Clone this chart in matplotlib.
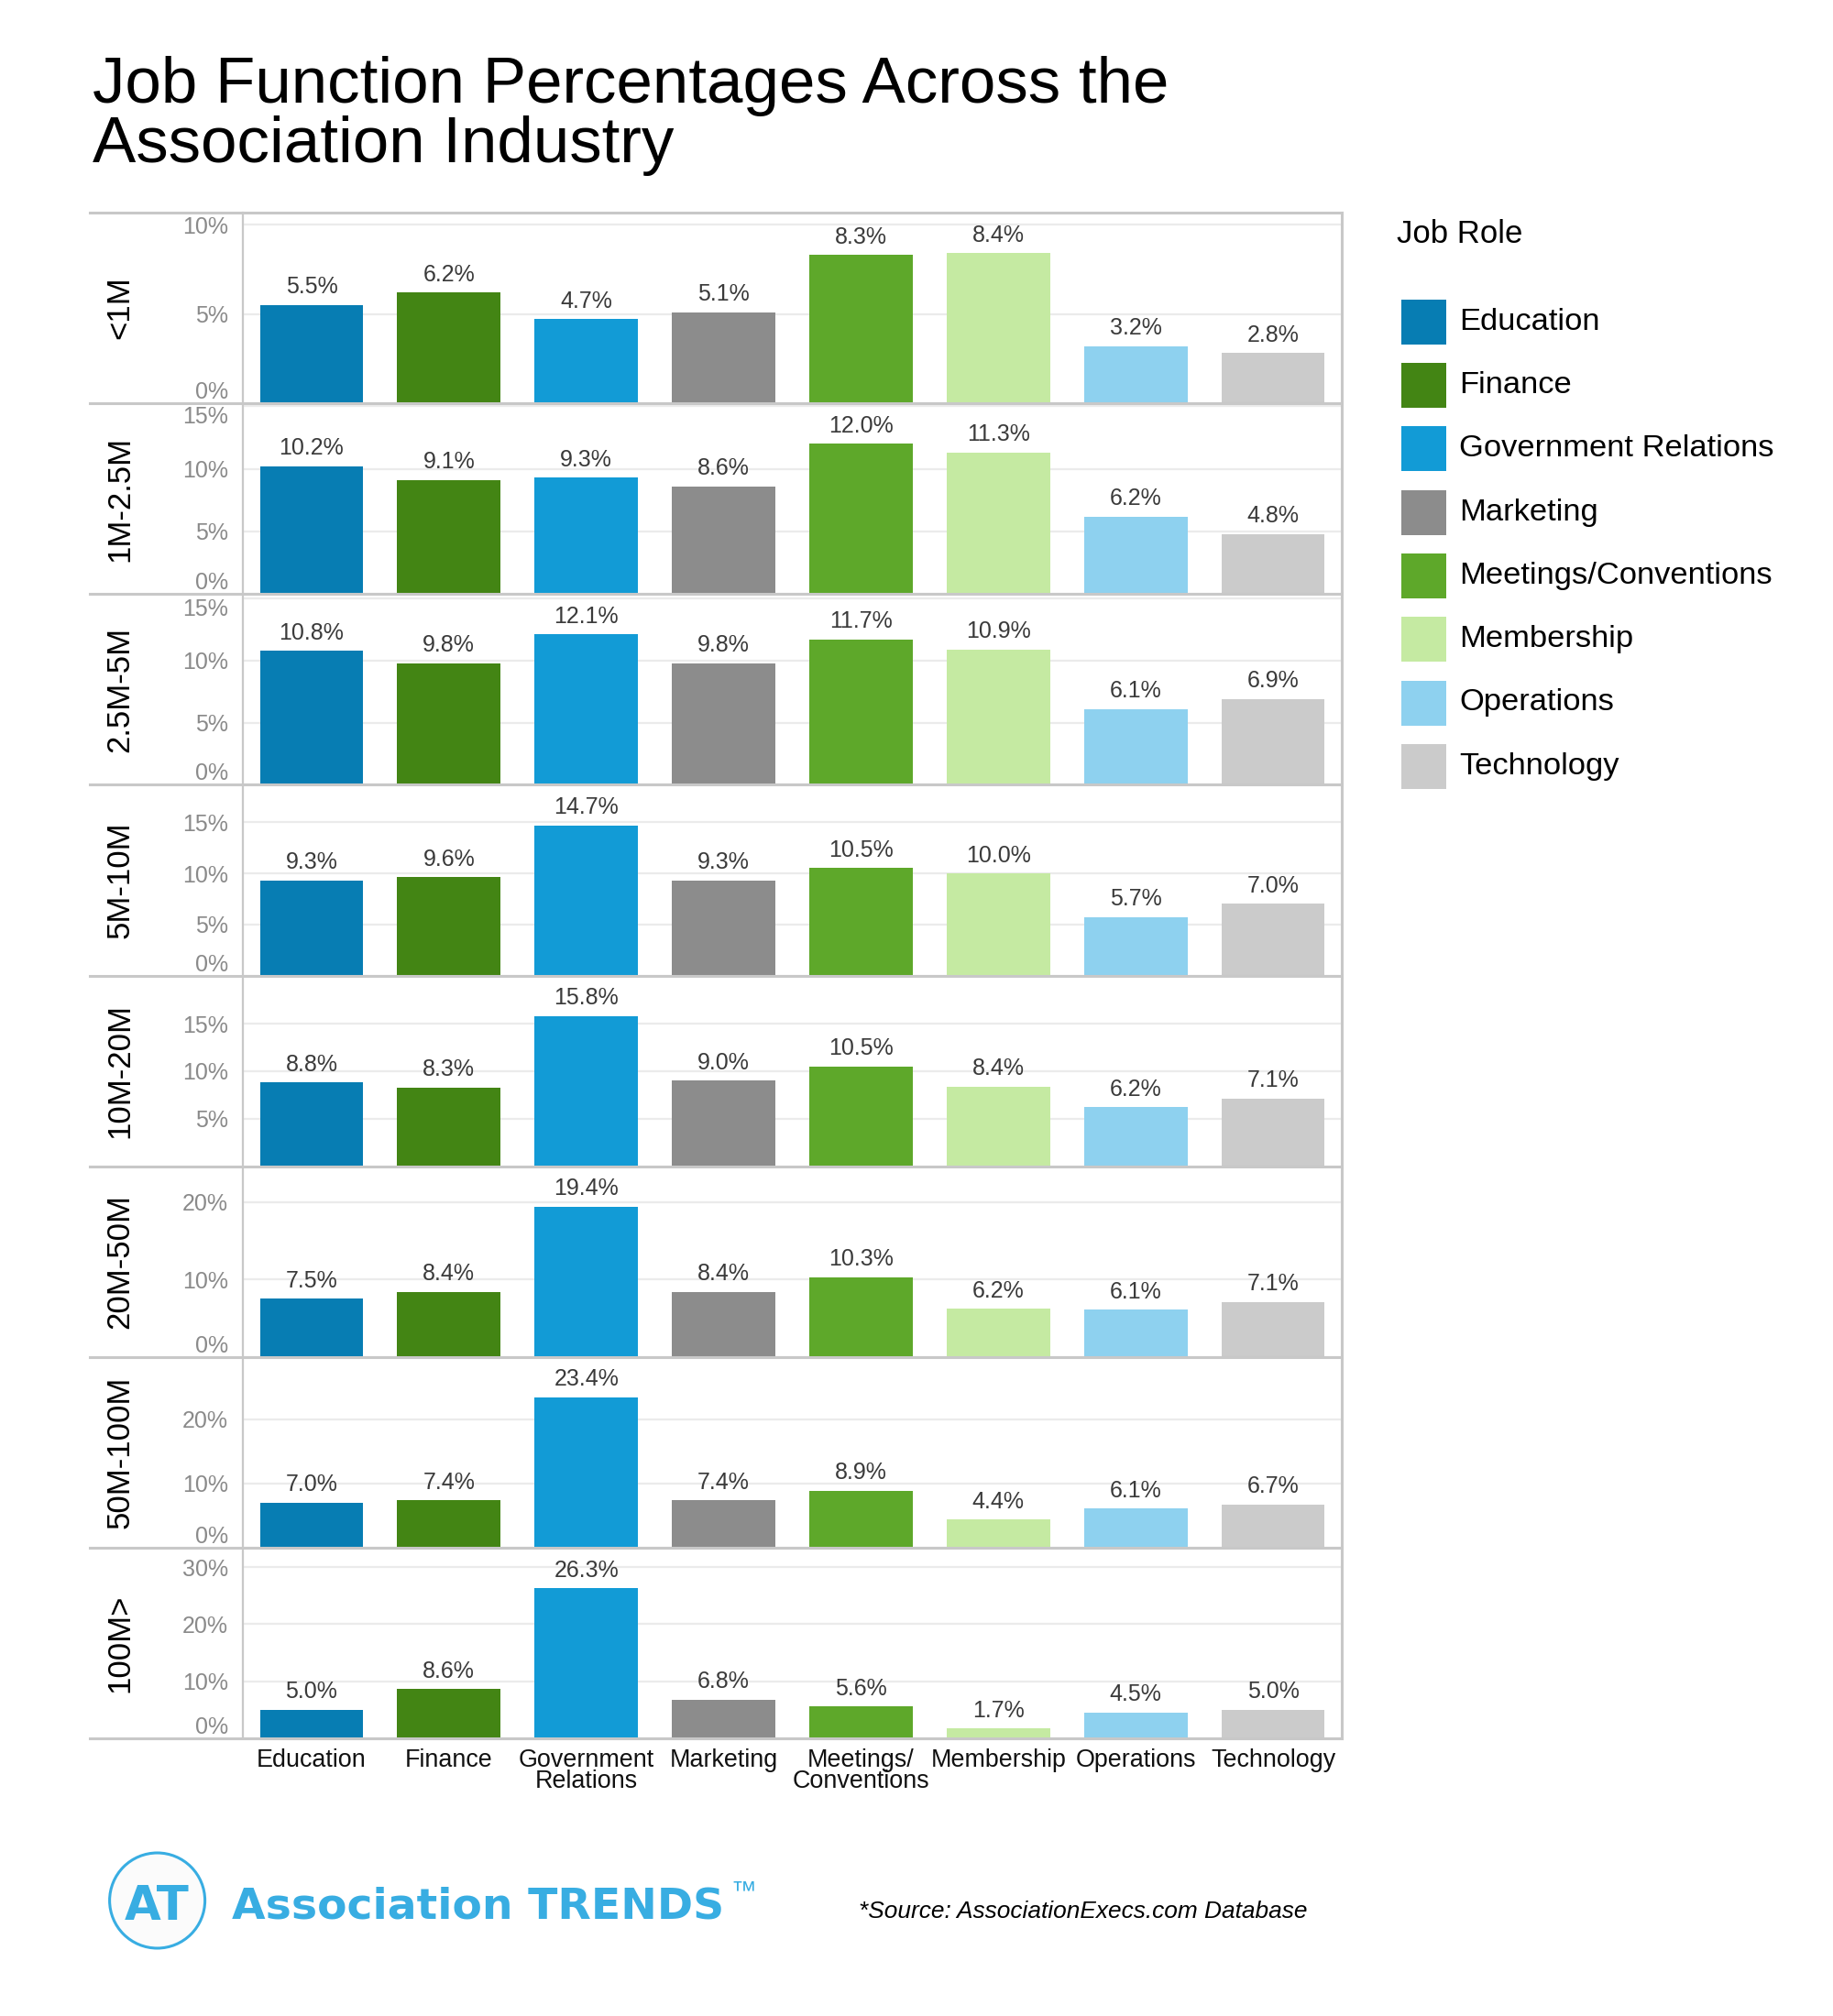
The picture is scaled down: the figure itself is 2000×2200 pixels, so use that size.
import matplotlib
matplotlib.use("Agg")
import matplotlib.pyplot as plt
from matplotlib.lines import Line2D
from matplotlib.patches import Rectangle, Ellipse

plt.rcParams['font.family'] = ['Liberation Sans', 'DejaVu Sans']

# ---------------- data ----------------
categories = ["Education", "Finance", "Government Relations", "Marketing",
              "Meetings/Conventions", "Membership", "Operations", "Technology"]
tick_labels = ["Education", "Finance", "Government\nRelations", "Marketing",
               "Meetings/\nConventions", "Membership", "Operations", "Technology"]
colors = ["#077db3", "#438514", "#129bd6", "#8c8c8c",
          "#5ea82a", "#c5eaa2", "#8ed1ef", "#cbcbcb"]

row_names = ["<1M", "1M-2.5M", "2.5M-5M", "5M-10M",
             "10M-20M", "20M-50M", "50M-100M", "100M>"]

v_lt1m     = [5.5, 6.2, 4.7, 5.1, 8.3, 8.4, 3.2, 2.8]
v_1_25m    = [10.2, 9.1, 9.3, 8.6, 12.0, 11.3, 6.2, 4.8]
v_25_5m    = [10.8, 9.8, 12.1, 9.8, 11.7, 10.9, 6.1, 6.9]
v_5_10m    = [9.3, 9.6, 14.7, 9.3, 10.5, 10.0, 5.7, 7.0]
v_10_20m   = [8.8, 8.3, 15.8, 9.0, 10.5, 8.4, 6.2, 7.1]
v_20_50m   = [7.5, 8.4, 19.4, 8.4, 10.3, 6.2, 6.1, 7.1]
v_50_100m  = [7.0, 7.4, 23.4, 7.4, 8.9, 4.4, 6.1, 6.7]
v_100m     = [5.0, 8.6, 26.3, 6.8, 5.6, 1.7, 4.5, 5.0]
values = [v_lt1m, v_1_25m, v_25_5m, v_5_10m, v_10_20m, v_20_50m, v_50_100m, v_100m]

yticks = [[0, 5, 10], [0, 5, 10, 15], [0, 5, 10, 15], [0, 5, 10, 15],
          [5, 10, 15], [0, 10, 20], [0, 10, 20], [0, 10, 20, 30]]

# ---------------- layout ----------------
W, H = 2000, 2200
fig = plt.figure(figsize=(W / 100, H / 100), dpi=100)
fig.patch.set_facecolor("white")

def fx(px):
    return px / W

def fy(py):
    return 1 - py / H

TOP, BOT, LEFT, RIGHT = 232, 1897, 265, 1464
rowh = (BOT - TOP) / 8
line_col = "#c8c8c8"

# Title
fig.text(fx(101), fy(112), "Job Function Percentages Across the", fontsize=51,
         va="baseline", ha="left", color="black")
fig.text(fx(101), fy(177), "Association Industry", fontsize=51,
         va="baseline", ha="left", color="black")

axes = []
for i, (name, vals, tks) in enumerate(zip(row_names, values, yticks)):
    y0 = TOP + i * rowh
    ax = fig.add_axes([fx(LEFT), fy(y0 + rowh), fx(RIGHT) - fx(LEFT), rowh / H])
    x = list(range(len(categories)))
    ax.bar(x, vals, width=0.753, color=colors, zorder=2)
    ax.set_xlim(-0.5, len(categories) - 0.5)
    ymax = max(vals) * 1.27
    ax.set_ylim(0, ymax)
    ax.set_yticks(tks)
    ax.set_yticklabels([f"{t}%" for t in tks])
    ax.tick_params(axis="y", length=0, pad=11.5, labelsize=18, labelcolor="#8a8a8a")
    for t, tick in zip(tks, ax.yaxis.get_major_ticks()):
        if t == 0:
            tick.label1.set_va("bottom")
        elif (ymax - t) / ymax * rowh < 8:
            tick.label1.set_va("top")
    ax.yaxis.grid(True, color="#ebebeb", lw=1.6)
    ax.set_axisbelow(True)
    for s in ax.spines.values():
        s.set_visible(False)
    ax.set_facecolor("none")
    for j, v in enumerate(vals):
        ax.annotate(f"{v:.1f}%", (j, v), xytext=(0, 9), textcoords="offset points",
                    ha="center", va="baseline", fontsize=18, color="#3a3a3a")
    if i == len(row_names) - 1:
        ax.set_xticks(x)
        ax.set_xticklabels(tick_labels, fontsize=19.4, color="#111111",
                           linespacing=0.85, ha="center", multialignment="center")
        ax.tick_params(axis="x", length=0, pad=8)
    else:
        ax.set_xticks([])
    fig.text(fx(131), fy(y0 + rowh / 2), name, rotation=90, ha="center",
             va="center", fontsize=25, color="black")
    axes.append(ax)

# separators and borders
for k in range(9):
    y = TOP + k * rowh
    fig.add_artist(Line2D([fx(98), fx(RIGHT)], [fy(y), fy(y)], color=line_col, lw=2.2,
                          zorder=5))
fig.add_artist(Line2D([fx(LEFT), fx(LEFT)], [fy(TOP), fy(BOT)], color=line_col, lw=1.6,
                      zorder=5))
fig.add_artist(Line2D([fx(RIGHT), fx(RIGHT)], [fy(TOP), fy(BOT)], color=line_col, lw=2.2,
                      zorder=5))

# legend
fig.text(fx(1524), fy(255), "Job Role", fontsize=25, va="center", ha="left")
for k, (cat, c) in enumerate(zip(categories, colors)):
    ytop = 326.7 + k * 69.3
    fig.add_artist(Rectangle((fx(1529), fy(ytop + 49)), 49 / W, 49 / H,
                             transform=fig.transFigure, facecolor=c, edgecolor="none"))
    fig.text(fx(1592), fy(ytop + 24.5), cat, fontsize=24.8, va="center", ha="left")

# logo
brand = "#38ade2"
fig.add_artist(Ellipse((fx(171.6), fy(2074)), 104 / W, 104 / H,
                       transform=fig.transFigure, facecolor="#fbfbfb",
                       edgecolor=brand, lw=2.2))
fig.text(fx(171.6), fy(2095), "AT", fontsize=37, weight="bold", color=brand,
         ha="center", va="baseline", family="DejaVu Sans")
fig.text(fx(253), fy(2094), "Association TRENDS", fontsize=34, weight="bold",
         color=brand, ha="left", va="baseline", family="DejaVu Sans")
fig.text(fx(797), fy(2071), "™", fontsize=20, color=brand, ha="left", va="baseline")

# source
fig.text(fx(937), fy(2093), "*Source: AssociationExecs.com Database", fontsize=18.9,
         style="italic", ha="left", va="baseline", color="black")

fig.savefig("out.png", dpi=100, facecolor="white")
